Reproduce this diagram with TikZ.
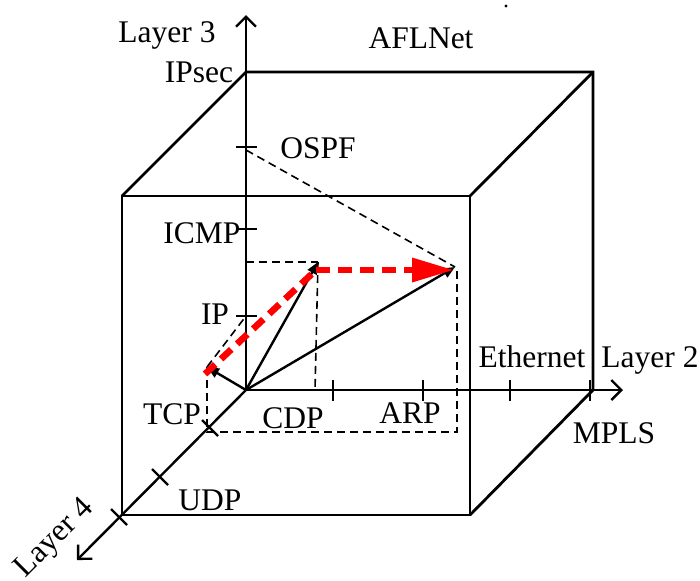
\documentclass[tikz,border=0pt]{standalone}
\usepackage{fontspec}
\setmainfont{Liberation Serif}
\usetikzlibrary{arrows.meta}
\begin{document}
\begin{tikzpicture}[x=0.5pt,y=-0.5pt,
  lbl/.style={font=\fontsize{15.75}{18}\selectfont, inner sep=0pt, anchor=base},
  axisline/.style={line width=1.2pt, -{Straight Barb[length=5pt,width=10pt,line width=1.2pt]}},
  cubeedge/.style={line width=1.4pt, line join=miter},
  tickmark/.style={line width=1.1pt},
  guide/.style={line width=0.8pt, dash pattern=on 4pt off 2.5pt},
  vec/.style={line width=1.2pt, -{Triangle[length=6pt,width=5pt]}},
  redline/.style={red, line width=3.3pt, dash pattern=on 7pt off 4pt},
]
\useasboundingbox (0,0) rectangle (700,580);
% key points
\coordinate (O) at (246,390);
\coordinate (Ytop) at (246,15);
\coordinate (Xend) at (623,390);
\coordinate (Zend) at (77,560);
\coordinate (BTL) at (246,72);
\coordinate (BTR) at (593,72);
\coordinate (BBR) at (593,390);
\coordinate (FTL) at (122,196);
\coordinate (FTR) at (470,196);
\coordinate (FBR) at (470,515);
\coordinate (FBL) at (122,515);
\coordinate (A) at (318,262);
\coordinate (B) at (207,367);
\coordinate (C) at (455,267);
\coordinate (Aaxis) at (246,262);
\coordinate (Adown) at (315,390);
\coordinate (Bdown) at (207,432);
\coordinate (Cdown) at (457,432);
\coordinate (Ctop) at (457,267);
\coordinate (OSPFt) at (246,150);
\coordinate (IPt) at (246,316);
\coordinate (R1) at (205,374);
\coordinate (R2) at (316,270);
\coordinate (R3) at (453,270);

% cube
\draw[cubeedge] (FTL) -- (FTR) -- (FBR) -- (FBL) -- cycle;
\draw[cubeedge] (FTL) -- (BTL) -- (BTR) -- (BBR) -- (FBR);
\draw[cubeedge] (FTR) -- (BTR);

% axes
\draw[axisline] (O) -- (Ytop);
\draw[axisline] (O) -- (Xend);
\draw[axisline] (O) -- (Zend);

% ticks
\foreach \y in {147,229,316} \draw[tickmark] (236,\y) -- (257,\y);
\foreach \x in {333,423,510,590} \draw[tickmark] (\x,380) -- (\x,401);
\foreach \px/\py in {210/428,160/477,119/517} \draw[tickmark] (\px-8,\py-8) -- (\px+8,\py+8);

% guides
\draw[guide] (Aaxis) -- (A);
\draw[guide] (A) -- (Adown);
\draw[guide] (B) -- (IPt);
\draw[guide] (B) -- (Bdown) -- (Cdown) -- (Ctop);
\draw[guide] (OSPFt) -- (C);

% vectors
\draw[vec] (O) -- (A);
\draw[vec] (O) -- (B);
\draw[vec] (O) -- (C);

% red path
\draw[redline] (R1) -- (R2);
\draw[redline] (R2) -- (412,270);
\fill[red] (412,257.5) -- (R3) -- (412,282.5) -- cycle;

% labels
\node[lbl] (l3) at (167,42) {Layer 3};
\node[lbl] (ipsec) at (199,82) {IPsec};
\node[lbl] (ospf) at (318,158) {OSPF};
\node[lbl] (afl) at (421,48) {AFLNet};
\node[lbl] (icmp) at (202,243) {ICMP};
\node[lbl] (ip) at (215,324) {IP};
\node[lbl] (tcp) at (172,424) {TCP};
\node[lbl] (cdp) at (293,428) {CDP};
\node[lbl] (arp) at (410,423) {ARP};
\node[lbl] (udp) at (210,510) {UDP};
\node[lbl] (eth) at (532,367) {Ethernet};
\node[lbl] (l2) at (650,367) {Layer 2};
\node[lbl] (mpls) at (614,443) {MPLS};
\node[lbl, anchor=center, rotate=45] (l4) at (55,539) {Layer 4};
\fill (506,6) circle (0.8pt);
\end{tikzpicture}
\end{document}
